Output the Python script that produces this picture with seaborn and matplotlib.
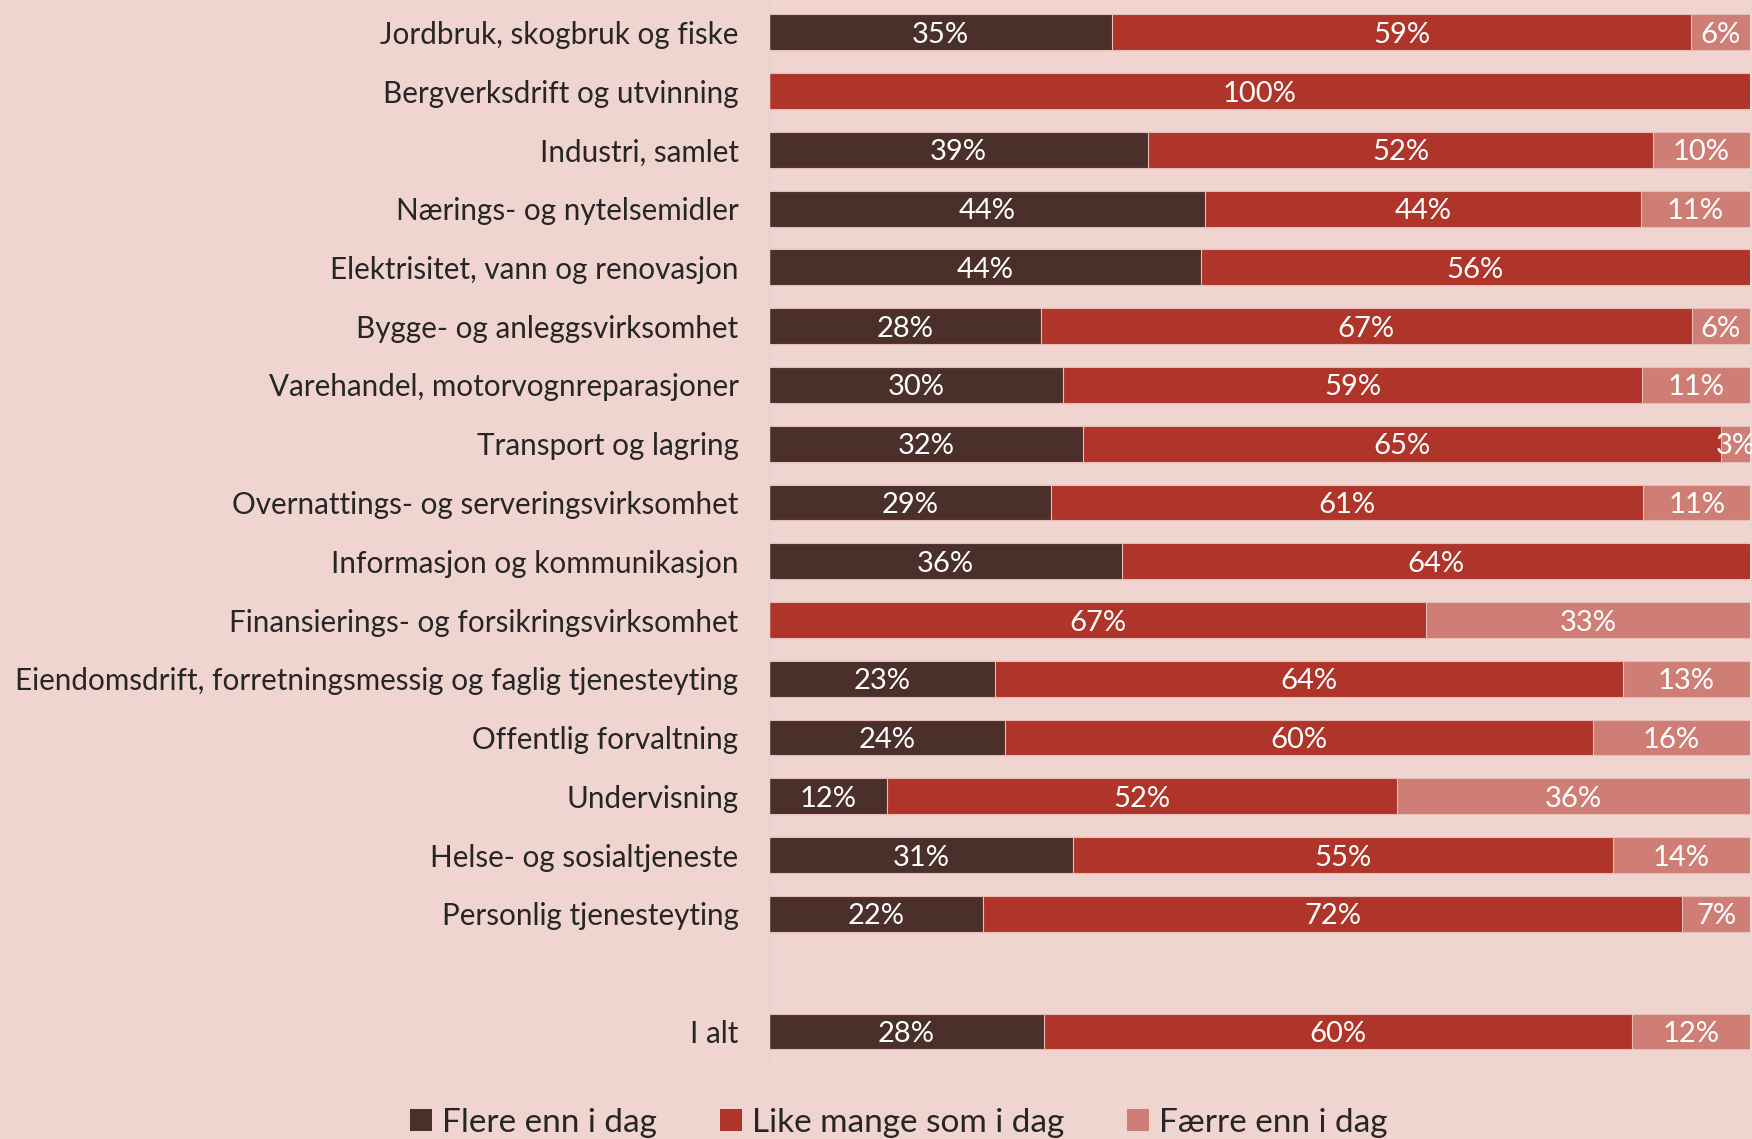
import numpy as np
import pandas as pd
import matplotlib
matplotlib.use("Agg")
import matplotlib.pyplot as plt
import seaborn as sns
from matplotlib.patches import Patch

categories = [
    "Jordbruk, skogbruk og fiske",
    "Bergverksdrift og utvinning",
    "Industri, samlet",
    "Nærings- og nytelsemidler",
    "Elektrisitet, vann og renovasjon",
    "Bygge- og anleggsvirksomhet",
    "Varehandel, motorvognreparasjoner",
    "Transport og lagring",
    "Overnattings- og serveringsvirksomhet",
    "Informasjon og kommunikasjon",
    "Finansierings- og forsikringsvirksomhet",
    "Eiendomsdrift, forretningsmessig og faglig tjenesteyting",
    "Offentlig forvaltning",
    "Undervisning",
    "Helse- og sosialtjeneste",
    "Personlig tjenesteyting",
    " ",
    "I alt",
]
flere = [35, 0, 39, 44, 44, 28, 30, 32, 29, 36, 0, 23, 24, 12, 31, 22, np.nan, 28]
like = [59, 100, 52, 44, 56, 67, 59, 65, 61, 64, 67, 64, 60, 52, 55, 72, np.nan, 60]
faerre = [6, 0, 10, 11, 0, 6, 11, 3, 11, 0, 33, 13, 16, 36, 14, 7, np.nan, 12]
series_names = ["Flere enn i dag", "Like mange som i dag", "Færre enn i dag"]
colors = ["#4A2F2A", "#AF3429", "#CE7E74"]
bg = "#EFD4D0"

df = pd.DataFrame({"cat": categories, "a": flere, "b": like, "c": faerre})
tot = df[["a", "b", "c"]].sum(axis=1, min_count=1)
scale = 100 / tot
df["sa"] = df["a"] * scale
df["sb"] = df["b"] * scale
df["sc"] = df["c"] * scale
df["c1"] = df["sa"]
df["c2"] = df["sa"] + df["sb"]
df["c3"] = df["sa"] + df["sb"] + df["sc"]

sns.set_theme(style="white")
plt.rcParams["font.family"] = ["Lato", "DejaVu Sans"]

fig = plt.figure(figsize=(17.52, 11.39), dpi=100, facecolor=bg)
ax = fig.add_axes([0.439, 0.0676, 0.5599, 0.9314])
ax.set_facecolor(bg)

for col, c in [("c3", colors[2]), ("c2", colors[1]), ("c1", colors[0])]:
    sns.barplot(data=df, y="cat", x=col, order=categories, orient="h",
                color=c, saturation=1, width=0.61, ax=ax,
                edgecolor="#E6BDB7", linewidth=0.8)

for i, row in df.iterrows():
    if pd.isna(row["a"]):
        continue
    left = 0
    for raw, w in [(row["a"], row["sa"]), (row["b"], row["sb"]), (row["c"], row["sc"])]:
        if raw > 0:
            ax.text(left + w / 2, i, f"{int(raw)}%", ha="center", va="center_baseline",
                    color="white", fontsize=21)
        left += w

ax.set_xlim(0, 100)
ax.set_ylim(17.52, -0.53)
ax.set_xlabel("")
ax.set_ylabel("")
ax.set_xticks([])
ax.tick_params(axis="y", length=0, pad=22, labelsize=21.3, labelcolor="#262626")
for s in ["top", "right", "bottom"]:
    ax.spines[s].set_visible(False)
ax.spines["left"].set_color("#D9D9D9")
ax.spines["left"].set_linewidth(1)

handles = [Patch(facecolor=c, edgecolor="none") for c in colors]
fig.legend(handles, series_names, loc="center", bbox_to_anchor=(0.513, 0.014),
           ncol=3, frameon=False, fontsize=24, handlelength=0.65, handleheight=0.65,
           handletextpad=0.3, columnspacing=1.9, labelcolor="#262626")

fig.savefig("out.png", dpi=100, facecolor=bg)
